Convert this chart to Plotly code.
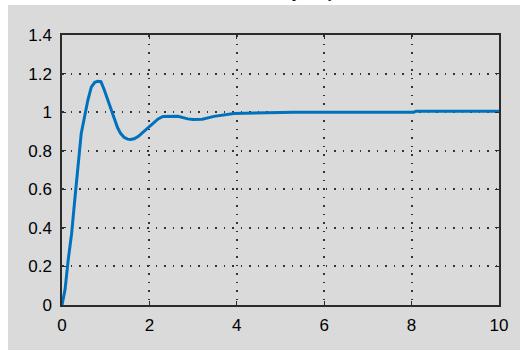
import plotly.graph_objects as go

t = [0, 0.07, 0.14, 0.22, 0.29, 0.37, 0.44, 0.52, 0.59, 0.67, 0.75, 0.82, 0.89,
     0.96, 1.04, 1.11, 1.19, 1.27, 1.34, 1.42, 1.5, 1.57, 1.65, 1.75, 1.85, 1.98,
     2.1, 2.2, 2.31, 2.45, 2.65, 2.88, 3.0, 3.21, 3.48, 3.93, 5.27, 5.3, 8.05, 8.1, 10]
y = [0, 0.08, 0.23, 0.37, 0.54, 0.72, 0.89, 0.98, 1.06, 1.13, 1.155, 1.16, 1.158,
     1.12, 1.07, 1.03, 0.97, 0.92, 0.89, 0.87, 0.86, 0.858, 0.862, 0.875, 0.895, 0.922,
     0.945, 0.965, 0.978, 0.98, 0.979, 0.965, 0.962, 0.963, 0.978, 0.993, 0.997, 1.0, 1.0, 1.005, 1.005]

x_ticks = [0, 2, 4, 6, 8, 10]
y_ticks = [0, 0.2, 0.4, 0.6, 0.8, 1, 1.2, 1.4]
y_tick_text = ["0", "0.2", "0.4", "0.6", "0.8", "1", "1.2", "1.4"]
title_text = "Simulated plant y"

W, H = 520, 350
L, R, T, B = 62, 13, 35, 45
pw, ph = W - L - R, H - T - B

fig = go.Figure()
fig.add_trace(go.Scatter(x=t, y=y, mode="lines",
                         line=dict(color="#0072bd", width=3), hoverinfo="skip"))

axis_common = dict(
    showline=True, linecolor="#2b2b2b", linewidth=1.5, mirror="allticks",
    ticks="inside", ticklen=4, tickcolor="#2b2b2b", tickwidth=1,
    showgrid=True, gridcolor="#333333", gridwidth=1.5, griddash="1.5px,7px",
    zeroline=False,
    tickfont=dict(family="Liberation Sans, Arial, sans-serif", size=17, color="#000000"),
)

fig.update_xaxes(range=[0, 10], tickvals=x_ticks, ticktext=[str(v) for v in x_ticks],
                 ticklabelstandoff=4, **axis_common)
fig.update_yaxes(range=[0, 1.4], tickvals=y_ticks, ticktext=y_tick_text,
                 ticklabelstandoff=5, **axis_common)

# grey window panel (white border strip at top and left of the window)
fig.add_shape(type="rect", xref="paper", yref="paper", layer="below",
              x0=(7 - L) / pw, x1=1 + R / pw + 0.02, y0=-B / ph - 0.02, y1=1 + (T - 5) / ph,
              fillcolor="#dadada", line=dict(width=0))

fig.add_annotation(text=title_text, xref="paper", yref="paper",
                   x=(283 - L) / pw, y=1 + (T - 3.5) / ph, xanchor="center", yanchor="bottom",
                   showarrow=False,
                   font=dict(family="Liberation Serif, Times New Roman, serif", size=16, color="#000000"))

fig.update_layout(
    width=W, height=H,
    margin=dict(l=L, r=R, t=T, b=B, pad=0),
    paper_bgcolor="#ffffff", plot_bgcolor="#f4f8fc",
    showlegend=False,
)

fig.write_html("out.html", config={"displayModeBar": False},
               post_script="document.body.style.margin='0';document.documentElement.style.margin='0';")
